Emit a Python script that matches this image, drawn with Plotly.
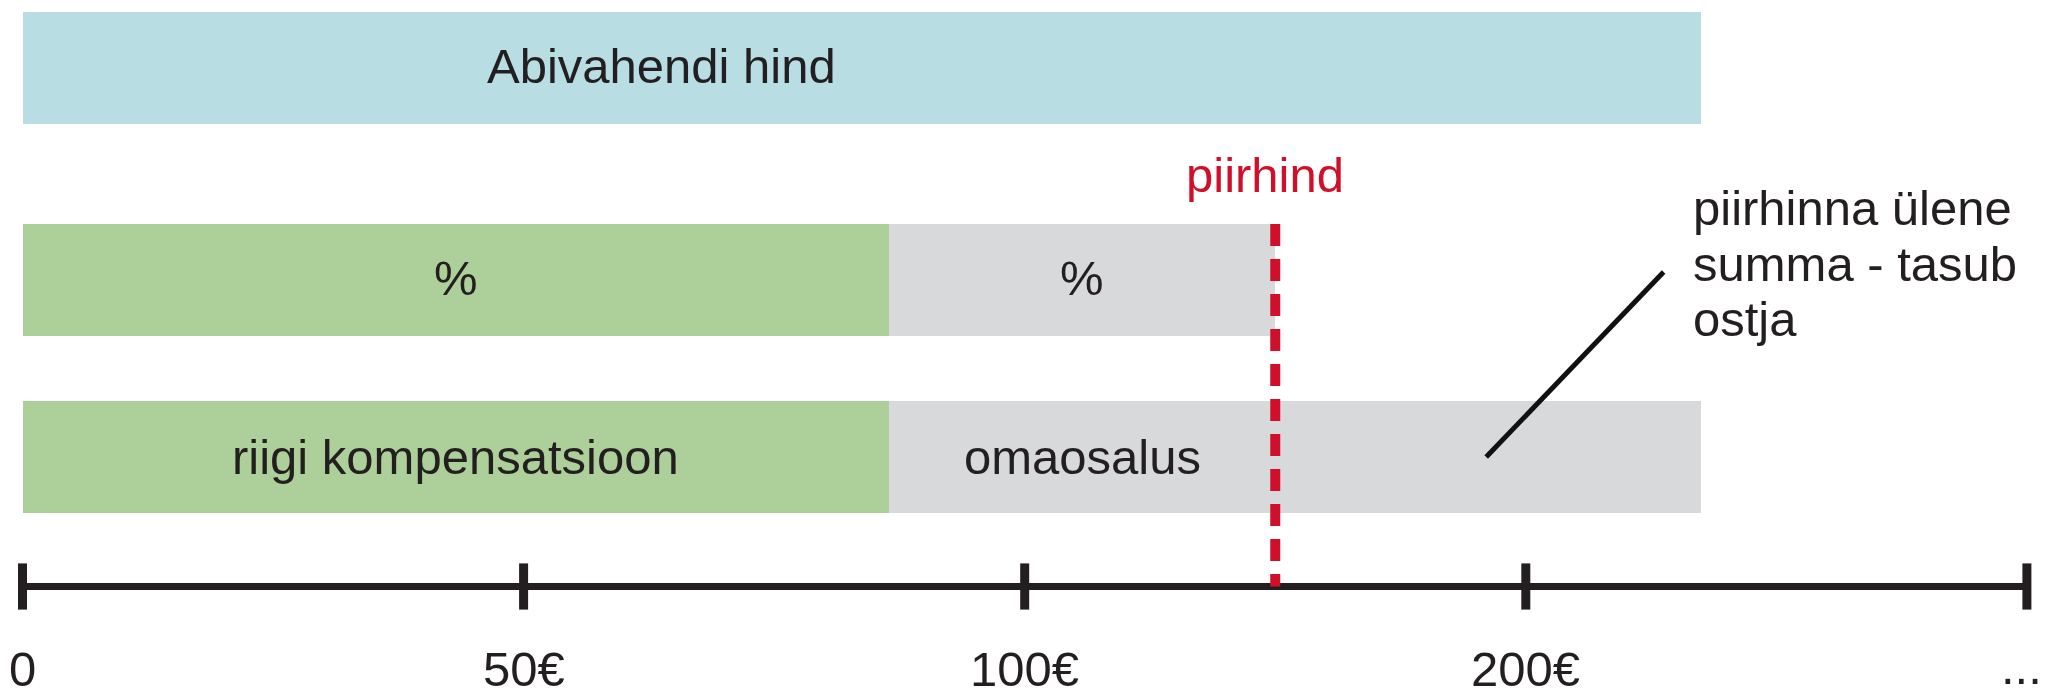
import plotly.graph_objects as go

# ---------------- data (schematic axis units: one unit per tick step) ----------------
tick_positions = [0, 1, 2, 3, 4]
tick_labels = ["0", "50€", "100€", "200€", "..."]
price = 3.35            # Abivahendi hind
compensation = 1.73     # riigi kompensatsioon
limit_price = 2.5       # piirhind

bar_labels = ["Abivahendi hind", "%", "%", "riigi kompensatsioon", "omaosalus"]
note_lines = ["piirhinna ülene", "summa - tasub", "ostja"]

# ---------------- layout / styles ----------------
W, H = 2047, 699
PX0, PXU = 22.5, 501.1           # pixel of 0, pixels per unit
XR = [(0 - PX0) / PXU, (W - PX0) / PXU]
ROW_Y = [68.3, 280, 457]
BAR_W = 112
AXIS_Y = 586.5
LABEL_Y = 669
FONT = "Liberation Sans, Arial, Helvetica, sans-serif"
FS = 49
TXT = "#231F20"
BLUE, GREEN, GRAY, RED = "#B8DEE3", "#ADD09A", "#D8D9DB", "#D0102A"

fig = go.Figure()

def seg(row, start, end, color):
    fig.add_trace(go.Bar(orientation="h", y=[ROW_Y[row]], x=[end - start], base=[start],
                         width=BAR_W, marker=dict(color=color, line=dict(width=0)),
                         hoverinfo="skip", showlegend=False))

seg(0, 0, price, BLUE)
seg(1, 0, compensation, GREEN)
seg(1, compensation, limit_price, GRAY)
seg(2, 0, compensation, GREEN)
seg(2, compensation, price, GRAY)

# axis line and ticks
fig.add_trace(go.Scatter(x=[tick_positions[0], tick_positions[-1]], y=[AXIS_Y, AXIS_Y], mode="lines",
                         line=dict(color=TXT, width=7), hoverinfo="skip", showlegend=False))
fig.add_trace(go.Scatter(x=tick_positions, y=[AXIS_Y] * len(tick_positions), mode="markers",
                         marker=dict(symbol="line-ns", size=33, line=dict(color=TXT, width=9)),
                         hoverinfo="skip", showlegend=False))

# limit price dashed line
fig.add_trace(go.Scatter(x=[limit_price, limit_price], y=[ROW_Y[1] - BAR_W / 2, AXIS_Y], mode="lines",
                         line=dict(color=RED, width=10, dash="22px,13px"),
                         hoverinfo="skip", showlegend=False))

# leader line for note
fig.add_trace(go.Scatter(x=[2.921, 3.275], y=[457, 272], mode="lines",
                         line=dict(color="#111111", width=5), hoverinfo="skip", showlegend=False))

def txt(x, y, s, color=TXT, xanchor="center"):
    fig.add_annotation(x=x, y=y, text=s, showarrow=False, xanchor=xanchor, yanchor="middle",
                       font=dict(family=FONT, size=FS, color=color))

txt(1.276, 66, bar_labels[0])
txt(compensation / 2, 278, bar_labels[1])
txt((compensation + limit_price) / 2, 278, bar_labels[2])
txt(compensation / 2, 457, bar_labels[3])
txt((compensation + limit_price) / 2, 457, bar_labels[4])
txt(limit_price - 0.02, 175, "piirhind", color=RED)

for i, line in enumerate(note_lines):
    txt(3.33, 208 + 55.5 * i, line, xanchor="left")

for xp, lab in zip(tick_positions, tick_labels):
    if lab == "...":
        txt(xp + 0.035, 667, lab, xanchor="right")
    else:
        txt(xp, LABEL_Y, lab)

fig.update_layout(
    width=W, height=H, margin=dict(l=0, r=0, t=0, b=0),
    paper_bgcolor="white", plot_bgcolor="white", barmode="overlay", bargap=0,
    xaxis=dict(range=XR, visible=False, fixedrange=True),
    yaxis=dict(range=[H, 0], visible=False, fixedrange=True),
    showlegend=False,
)

fig.write_html("out.html", config={"displayModeBar": False},
               post_script="document.body.style.margin='0';document.body.style.overflow='hidden';")
